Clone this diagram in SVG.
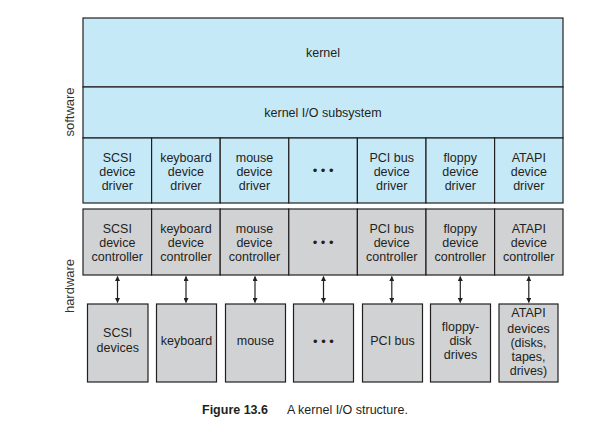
<svg xmlns="http://www.w3.org/2000/svg" width="615" height="446" viewBox="0 0 615 446">
<defs>
<style>
.sw{fill:#c6e9f8;stroke:#231f20;stroke-width:1.2}
.hw{fill:#d1d2d4;stroke:#231f20;stroke-width:1.2}
.ln{stroke:#231f20;stroke-width:1.2;fill:none}
text{font-family:"Liberation Sans",Arial,Helvetica,sans-serif;font-size:12.5px;fill:#231f20;text-anchor:middle}
.side{font-size:13px;fill:#333}
.dots{font-size:13px}
.ar{stroke:#231f20;stroke-width:1.2;fill:none;marker-start:url(#ah);marker-end:url(#ah)}
</style>
<marker id="ah" viewBox="0 0 10 10" refX="9" refY="5" markerWidth="5" markerHeight="5" orient="auto-start-reverse" markerUnits="userSpaceOnUse">
<path d="M0,0 L10,5 L0,10 z" fill="#231f20"/>
</marker>
</defs>
<rect width="615" height="446" fill="#ffffff"/>

<text class="side" transform="translate(74,112) rotate(-90)">software</text>
<text class="side" transform="translate(74,286) rotate(-90)">hardware</text>

<g id="kernel">
<rect class="sw" x="83" y="18" width="480" height="69"/>
<text x="323" y="57">kernel</text>
</g>
<g id="kernel-io">
<rect class="sw" x="83" y="87" width="480" height="51"/>
<text x="323" y="117">kernel I/O subsystem</text>
</g>

<g id="drv-scsi"><rect class="sw" x="83" y="138" width="68.6" height="65"/>
<text x="117.3" y="161.5">SCSI</text><text x="117.3" y="175.5">device</text><text x="117.3" y="189.5">driver</text></g>
<g id="drv-keyboard"><rect class="sw" x="151.6" y="138" width="68.6" height="65"/>
<text x="185.9" y="161.5">keyboard</text><text x="185.9" y="175.5">device</text><text x="185.9" y="189.5">driver</text></g>
<g id="drv-mouse"><rect class="sw" x="220.2" y="138" width="68.6" height="65"/>
<text x="254.5" y="161.5">mouse</text><text x="254.5" y="175.5">device</text><text x="254.5" y="189.5">driver</text></g>
<g id="drv-dots"><rect class="sw" x="288.8" y="138" width="68.6" height="65"/>
<text class="dots" x="323.1" y="175">• • •</text></g>
<g id="drv-pci"><rect class="sw" x="357.4" y="138" width="68.6" height="65"/>
<text x="391.7" y="161.5">PCI bus</text><text x="391.7" y="175.5">device</text><text x="391.7" y="189.5">driver</text></g>
<g id="drv-floppy"><rect class="sw" x="426" y="138" width="68.6" height="65"/>
<text x="460.3" y="161.5">floppy</text><text x="460.3" y="175.5">device</text><text x="460.3" y="189.5">driver</text></g>
<g id="drv-atapi"><rect class="sw" x="494.6" y="138" width="68.4" height="65"/>
<text x="528.8" y="161.5">ATAPI</text><text x="528.8" y="175.5">device</text><text x="528.8" y="189.5">driver</text></g>

<g id="ctl-scsi"><rect class="hw" x="83" y="209" width="68.6" height="66"/>
<text x="117.3" y="232.5">SCSI</text><text x="117.3" y="247">device</text><text x="117.3" y="261">controller</text></g>
<g id="ctl-keyboard"><rect class="hw" x="151.6" y="209" width="68.6" height="66"/>
<text x="185.9" y="232.5">keyboard</text><text x="185.9" y="247">device</text><text x="185.9" y="261">controller</text></g>
<g id="ctl-mouse"><rect class="hw" x="220.2" y="209" width="68.6" height="66"/>
<text x="254.5" y="232.5">mouse</text><text x="254.5" y="247">device</text><text x="254.5" y="261">controller</text></g>
<g id="ctl-dots"><rect class="hw" x="288.8" y="209" width="68.6" height="66"/>
<text class="dots" x="323.1" y="246.5">• • •</text></g>
<g id="ctl-pci"><rect class="hw" x="357.4" y="209" width="68.6" height="66"/>
<text x="391.7" y="232.5">PCI bus</text><text x="391.7" y="247">device</text><text x="391.7" y="261">controller</text></g>
<g id="ctl-floppy"><rect class="hw" x="426" y="209" width="68.6" height="66"/>
<text x="460.3" y="232.5">floppy</text><text x="460.3" y="247">device</text><text x="460.3" y="261">controller</text></g>
<g id="ctl-atapi"><rect class="hw" x="494.6" y="209" width="68.4" height="66"/>
<text x="528.8" y="232.5">ATAPI</text><text x="528.8" y="247">device</text><text x="528.8" y="261">controller</text></g>

<g id="dev-scsi"><rect class="hw" x="87.5" y="304" width="60.5" height="78"/>
<text x="117.7" y="337">SCSI</text><text x="117.7" y="352">devices</text></g>
<g id="dev-keyboard"><rect class="hw" x="156.5" y="304" width="60" height="78"/>
<text x="186.5" y="345">keyboard</text></g>
<g id="dev-mouse"><rect class="hw" x="225.5" y="304" width="60" height="78"/>
<text x="255.5" y="345">mouse</text></g>
<g id="dev-dots"><rect class="hw" x="293.5" y="304" width="60" height="78"/>
<text class="dots" x="323.5" y="345.5">• • •</text></g>
<g id="dev-pci"><rect class="hw" x="362.5" y="304" width="60" height="78"/>
<text x="392.5" y="345">PCI bus</text></g>
<g id="dev-floppy"><rect class="hw" x="430.5" y="304" width="60" height="78"/>
<text x="460.5" y="331">floppy-</text><text x="460.5" y="345">disk</text><text x="460.5" y="359">drives</text></g>
<g id="dev-atapi"><rect class="hw" x="499" y="304" width="59" height="78"/>
<text x="528.5" y="317">ATAPI</text><text x="528.5" y="333">devices</text><text x="528.5" y="347">(disks,</text><text x="528.5" y="361">tapes,</text><text x="528.5" y="375">drives)</text></g>

<g id="connectors">
<line class="ar" x1="117.5" y1="276.5" x2="117.5" y2="302.5"/>
<line class="ar" x1="186" y1="276.5" x2="186" y2="302.5"/>
<line class="ar" x1="255" y1="276.5" x2="255" y2="302.5"/>
<line class="ar" x1="323.5" y1="276.5" x2="323.5" y2="302.5"/>
<line class="ar" x1="391.8" y1="276.5" x2="391.8" y2="302.5"/>
<line class="ar" x1="460.3" y1="276.5" x2="460.3" y2="302.5"/>
<line class="ar" x1="528.8" y1="276.5" x2="528.8" y2="302.5"/>
</g>

<text x="202" y="414" style="text-anchor:start;font-weight:bold">Figure 13.6</text>
<text x="287" y="414" style="text-anchor:start">A kernel I/O structure.</text>
</svg>
